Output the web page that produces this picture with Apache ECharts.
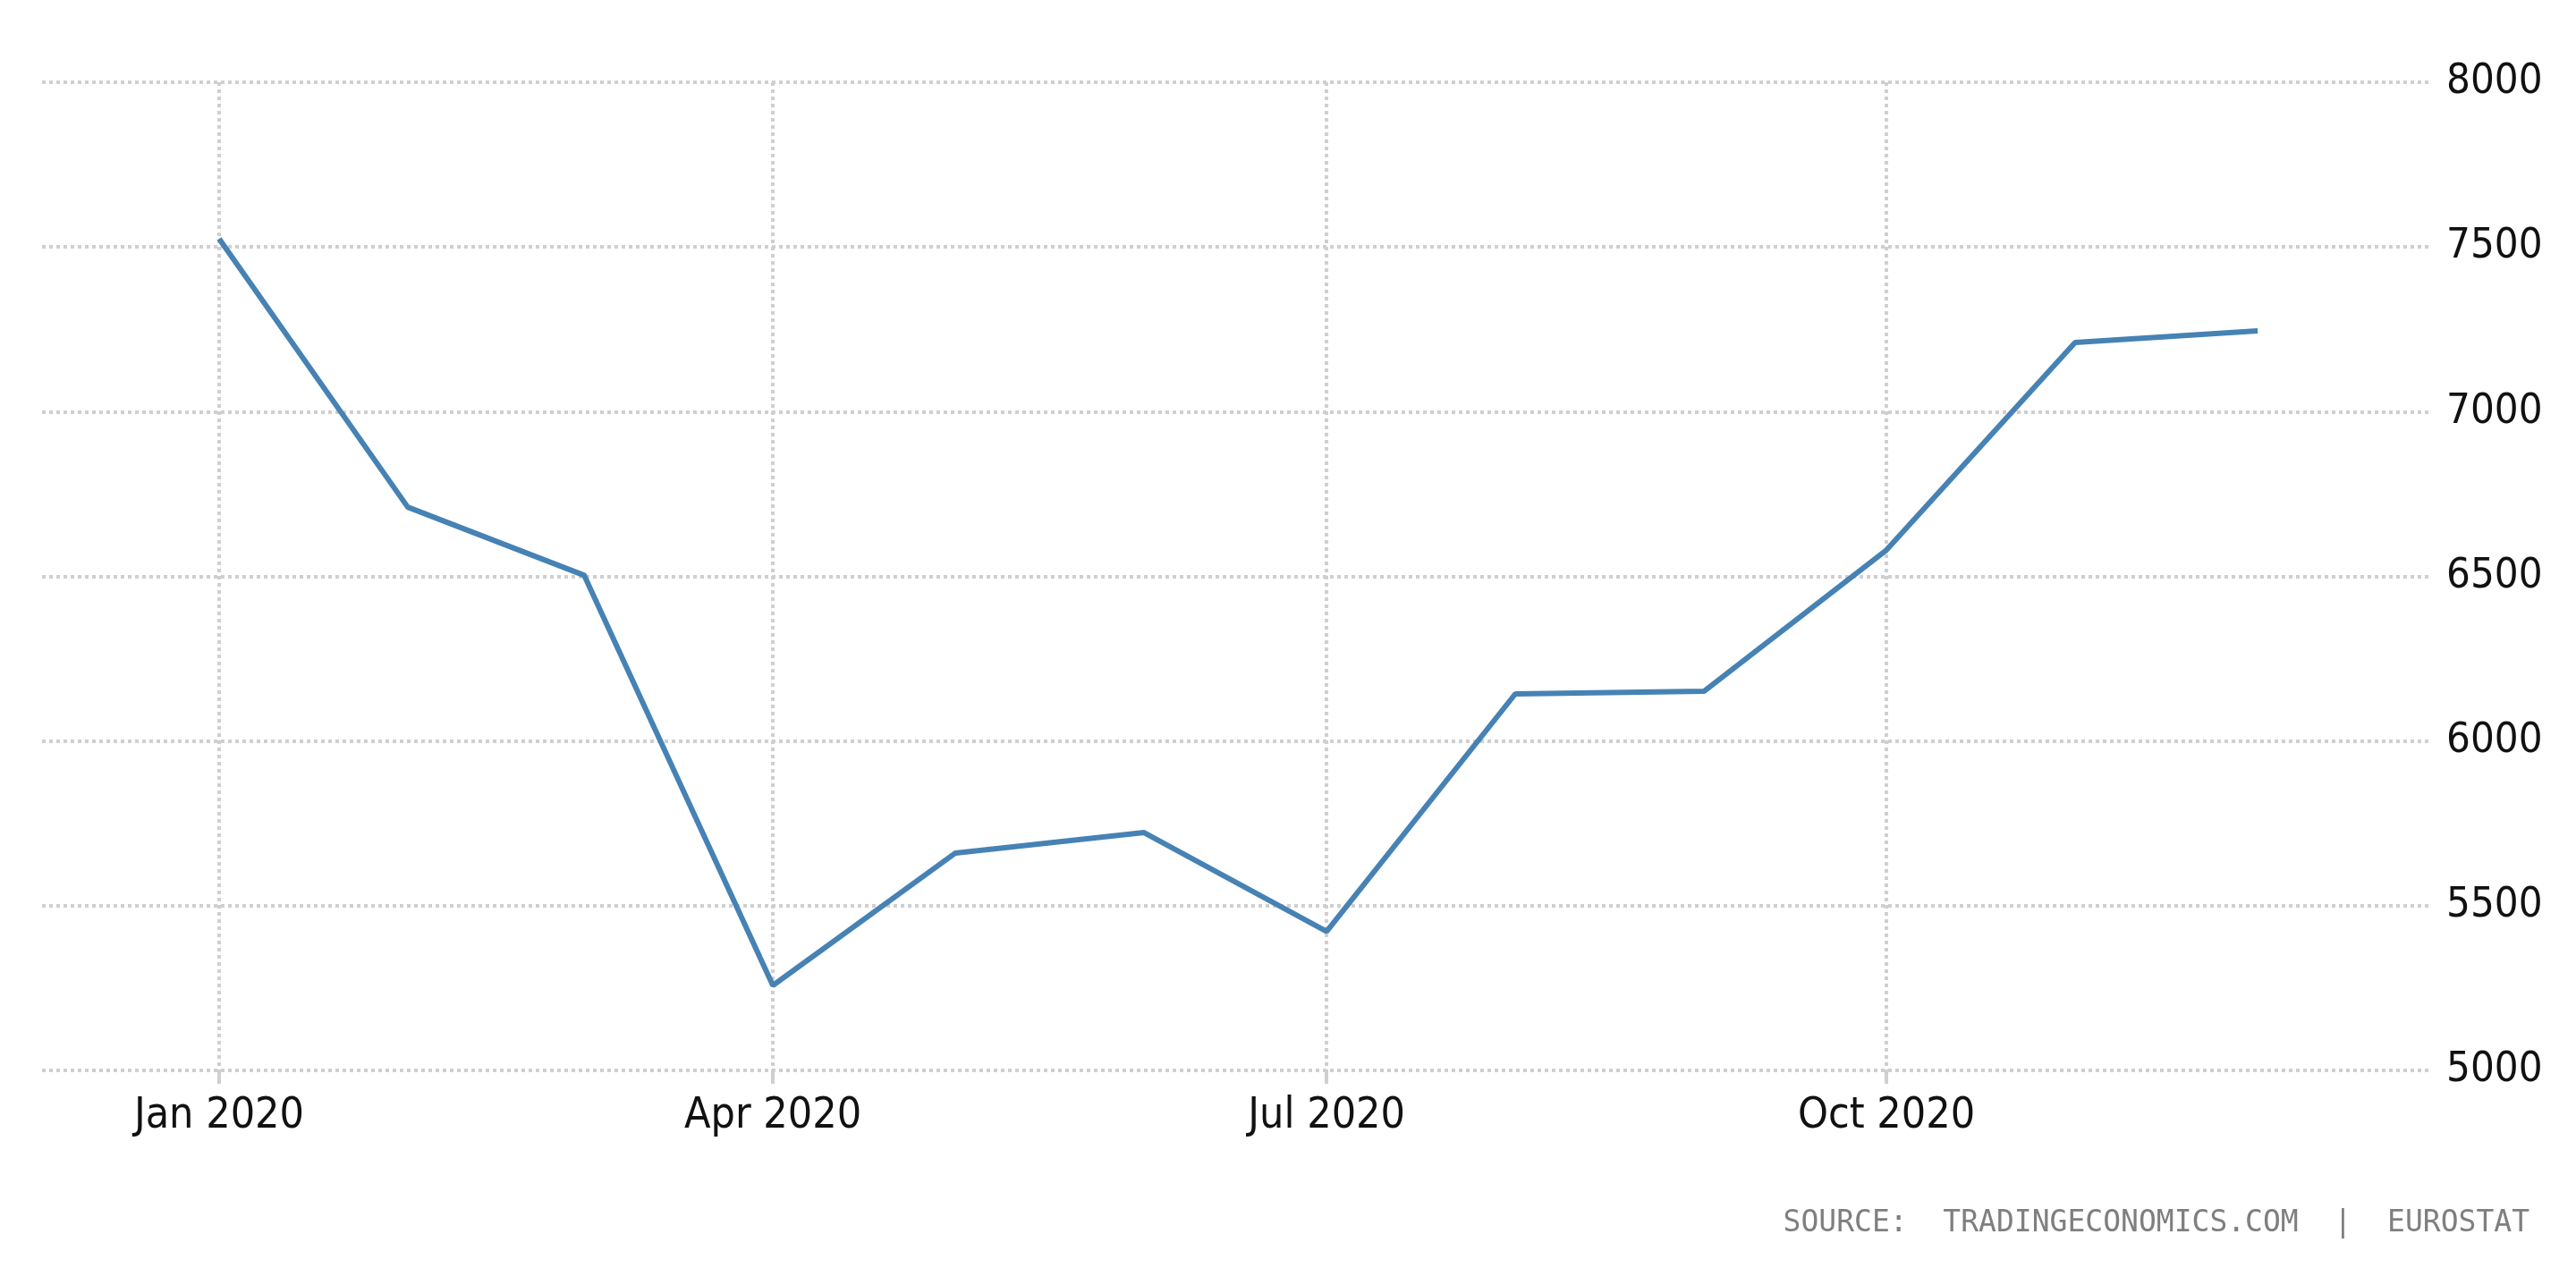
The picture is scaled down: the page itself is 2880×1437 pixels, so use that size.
<!DOCTYPE html>
<html>
<head>
<meta charset="utf-8">
<script src="https://cdn.jsdelivr.net/npm/echarts@6/dist/echarts.min.js"></script>
<style>
html,body{margin:0;padding:0;background:#fff;}
#chart{width:2880px;height:1437px;}
</style>
</head>
<body>
<div id="chart"></div>
<script>
// Data (monthly observations, 2020)
const months = ['2020-01-01','2020-02-01','2020-03-01','2020-04-01','2020-05-01','2020-06-01',
                '2020-07-01','2020-08-01','2020-09-01','2020-10-01','2020-11-01','2020-12-01'];
const values = [7525, 6710, 6503, 5258, 5660, 5722, 5422, 6143, 6151, 6580, 7210, 7245];
const xTickDates = ['2020-01-01','2020-04-01','2020-07-01','2020-10-01'];
const monthNames = ['Jan','Feb','Mar','Apr','May','Jun','Jul','Aug','Sep','Oct','Nov','Dec'];
const yTicks = [5000, 5500, 6000, 6500, 7000, 7500, 8000];
const sourceText = 'SOURCE:  TRADINGECONOMICS.COM  |  EUROSTAT';

const DAY = 86400000;
const EPOCH = Date.UTC(2020,0,1);
function toDay(s){ const p = s.split('-').map(Number); return Math.round((Date.UTC(p[0], p[1]-1, p[2]) - EPOCH)/DAY); }
function dayToLabel(d){ const dt = new Date(EPOCH + d*DAY); return monthNames[dt.getUTCMonth()] + ' ' + dt.getUTCFullYear(); }
const seriesData = months.map((m,i)=>[toDay(m), values[i]]);
const xTicks = xTickDates.map(toDay);

const chart = echarts.init(document.getElementById('chart'), null, {renderer:'canvas'});
const gridColor = '#cfcfcf';
const labelFont = '"Liberation Sans Narrow","DejaVu Sans Condensed",sans-serif';
chart.setOption({
  animation:false,
  backgroundColor:'#ffffff',
  grid:{left:47, right:162, top:92, bottom:240, containLabel:false},
  xAxis:{
    type:'value',
    min:-29.1,
    max:363.5,
    axisLine:{show:false},
    axisTick:{show:true, customValues:xTicks, length:15, lineStyle:{color:gridColor, width:4}},
    axisLabel:{
      customValues:xTicks,
      margin:28,
      color:'#111',
      fontSize:48,
      fontFamily:labelFont,
      formatter:function(v){ return dayToLabel(v); }
    },
    splitLine:{show:true, lineStyle:{color:gridColor, width:4, type:[4,4]}}
  },
  yAxis:{
    type:'value',
    position:'right',
    min:yTicks[0], max:yTicks[yTicks.length-1], interval:500,
    axisLine:{show:false},
    axisTick:{show:false},
    axisLabel:{
      margin:17,
      color:'#111',
      fontSize:47,
      fontFamily:labelFont,
      formatter:function(v){ return String(v); }
    },
    splitLine:{show:true, lineStyle:{color:gridColor, width:4, type:[4,4]}}
  },
  graphic:[{
    type:'text',
    right:52, top:1352,
    style:{text:sourceText, fill:'#7f7f7f', fontSize:33, fontFamily:'"DejaVu Sans Mono",monospace'}
  }],
  series:[{
    type:'line',
    data:seriesData,
    symbol:'none',
    lineStyle:{color:'#4682b4', width:6},
    itemStyle:{color:'#4682b4'}
  }]
});
</script>
</body>
</html>
